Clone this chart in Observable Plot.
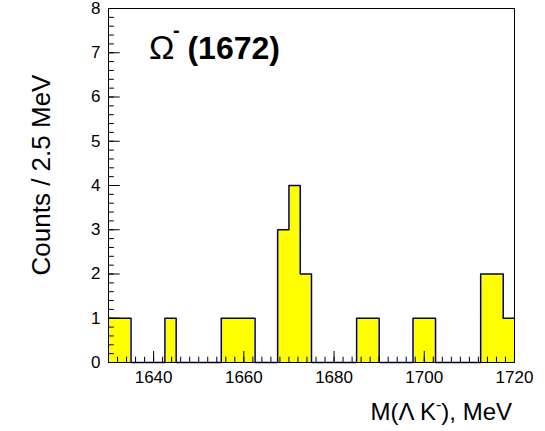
<!DOCTYPE html>
<html><head>
<script src="https://cdn.jsdelivr.net/npm/d3@7"></script>
<script src="https://cdn.jsdelivr.net/npm/@observablehq/plot@0.6"></script>
<style>body{margin:0;background:#fff}</style>
</head><body><div id="c"></div>
<script>
const binStart = 1630, binWidth = 2.5;
const counts = [1,1,0,0,0,1,0,0,0,0,1,1,1,0,0,3,4,2,0,0,0,0,1,1,0,0,0,1,1,0,0,0,0,2,2,1];
const xTicks = [1640,1660,1680,1700,1720];
const yTicks = [0,1,2,3,4,5,6,7,8];
const pts = counts.map((c,i)=>({x:binStart+i*binWidth,y:c}));
pts.push({x:binStart+counts.length*binWidth,y:counts[counts.length-1]});
const xMinor = d3.range(1630,1721,2);
const yMinor = d3.range(0,8.01,0.2);
const font = "Liberation Sans, Arial, sans-serif";
const p = Plot.plot({
  width:545,height:431,marginLeft:108,marginRight:31,marginTop:8,marginBottom:69,
  style:{fontFamily:font,fontSize:"17px",color:"#000",background:"#fff"},
  x:{domain:[1630,1720],ticks:xTicks,tickSize:0,tickPadding:8,tickFormat:d=>String(d),label:null},
  y:{domain:[0,8],ticks:yTicks,tickSize:0,tickPadding:8,label:null},
  marks:[
    Plot.areaY(pts,{x:"x",y:"y",curve:"step-after",fill:"#ffff00"}),
    Plot.lineY(pts,{x:"x",y:"y",curve:"step-after",stroke:"#00008b",strokeWidth:1.5}),
    Plot.ruleX(xTicks.concat([1630]),{y1:0,y2:0.25,stroke:"#000"}),
    Plot.ruleX(xMinor,{y1:0,y2:0.12,stroke:"#000"}),
    Plot.ruleY(yTicks,{x1:1630,x2:1632.6,stroke:"#000"}),
    Plot.ruleY(yMinor,{x1:1630,x2:1631.3,stroke:"#000"}),
    Plot.frame({stroke:"#000"}),
    Plot.text(["Ω"],{x:1639,y:7.1,text:d=>d,textAnchor:"start",fontSize:34}),
    Plot.text(["-"],{x:1644.3,y:7.5,text:d=>d,textAnchor:"start",fontSize:20,fontWeight:"bold"}),
    Plot.text(["(1672)"],{x:1647.5,y:7.1,text:d=>d,textAnchor:"start",fontSize:32,fontWeight:"bold"})
  ]
});
const svg = d3.select(p);
svg.append("text").attr("transform","translate(50,175) rotate(-90)").attr("text-anchor","middle")
  .attr("font-size",26).attr("font-family",font).text("Counts / 2.5 MeV");
const t = svg.append("text").attr("x",512).attr("y",420).attr("text-anchor","end")
  .attr("font-size",24).attr("font-family",font);
t.append("tspan").text("M(Λ K");
t.append("tspan").attr("dy",-10).attr("font-size",16).text("-");
t.append("tspan").attr("dy",10).text("), MeV");
document.getElementById("c").append(p);
</script></body></html>
